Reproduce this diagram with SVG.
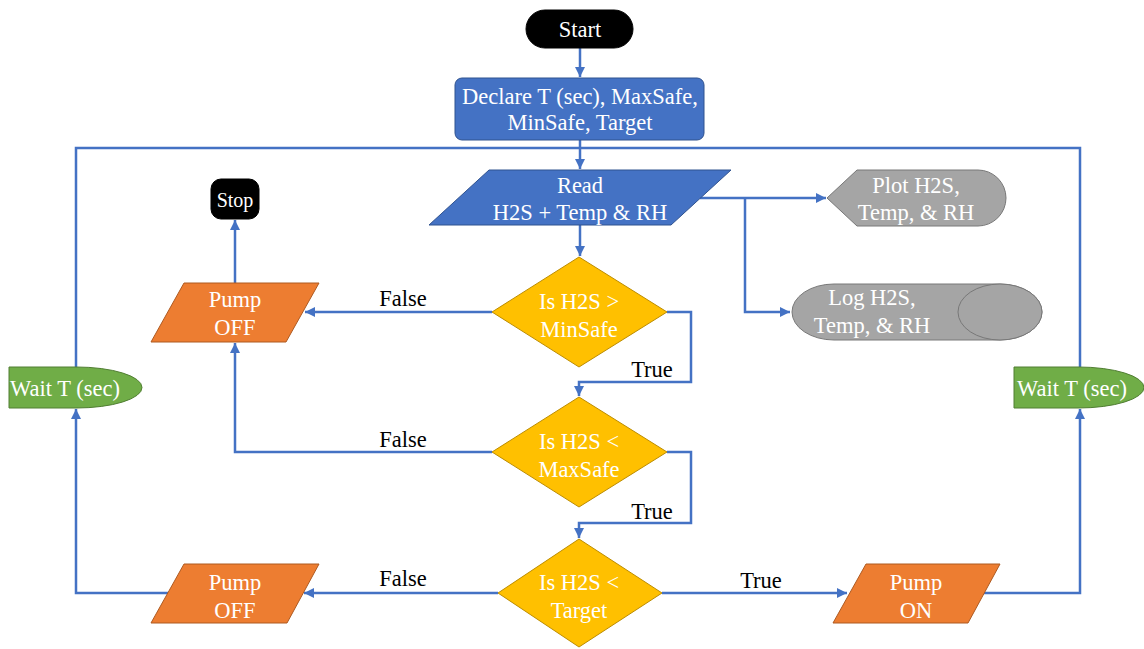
<svg xmlns="http://www.w3.org/2000/svg" width="1144" height="649" viewBox="0 0 1144 649" font-family="Liberation Serif, Times New Roman, serif">
<style>
text{font-size:22.5px;text-anchor:middle}
.w{fill:#fff}
.k{fill:#000}
.c{fill:none;stroke:#4472C4;stroke-width:2.5}
.blue{fill:#4472C4;stroke:#2F528F;stroke-width:1}
.org{fill:#ED7D31;stroke:#AE5A21;stroke-width:1}
.gold{fill:#FFC000;stroke:#BC8C00;stroke-width:1}
.gray{fill:#A5A5A5;stroke:#787878;stroke-width:1}
.green{fill:#70AD47;stroke:#507E32;stroke-width:1}
.blk{fill:#000;stroke:#000}
</style>
<defs>
<marker id="ah" markerUnits="userSpaceOnUse" markerWidth="12" markerHeight="10" refX="10" refY="5" orient="auto">
<path d="M0,0 L10,5 L0,10 Z" fill="#4472C4"/>
</marker>
</defs>
<rect width="1144" height="649" fill="#fff"/>
<g id="connectors">
<path class="c" d="M580,48 V77" marker-end="url(#ah)"/>
<path class="c" d="M580,140 V169" marker-end="url(#ah)"/>
<path class="c" d="M76,367 V148 H1080 V367"/>
<path class="c" d="M700,198 H826" marker-end="url(#ah)"/>
<path class="c" d="M745,198 V312 H790" marker-end="url(#ah)"/>
<path class="c" d="M580,225 V256" marker-end="url(#ah)"/>
<path class="c" d="M667,312 H691 V382 H579 V396" marker-end="url(#ah)"/>
<path class="c" d="M667,452 H691 V523 H579 V538" marker-end="url(#ah)"/>
<path class="c" d="M492,312 H305" marker-end="url(#ah)"/>
<path class="c" d="M492,452 H235 V343" marker-end="url(#ah)"/>
<path class="c" d="M235,283 V220" marker-end="url(#ah)"/>
<path class="c" d="M498,593 H304" marker-end="url(#ah)"/>
<path class="c" d="M168,593 H76 V409" marker-end="url(#ah)"/>
<path class="c" d="M662,593 H847" marker-end="url(#ah)"/>
<path class="c" d="M984,593 H1080 V409" marker-end="url(#ah)"/>
<text class="k" x="403" y="306">False</text>
<text class="k" x="403" y="447">False</text>
<text class="k" x="403" y="586">False</text>
<text class="k" x="652" y="377">True</text>
<text class="k" x="652" y="519">True</text>
<text class="k" x="761" y="588">True</text>
</g>
<g id="start">
<rect class="blk" x="526" y="10" width="107" height="38" rx="19"/>
<text class="w" x="580" y="37">Start</text>
</g>
<g id="declare">
<rect class="blue" x="455" y="78" width="249" height="62" rx="7"/>
<text class="w" x="580" y="104">Declare T (sec), MaxSafe,</text>
<text class="w" x="580" y="130">MinSafe, Target</text>
</g>
<g id="read">
<polygon class="blue" points="489,170 731,170 671,225 429,225"/>
<text class="w" x="580" y="193">Read</text>
<text class="w" x="580" y="220">H2S + Temp &amp; RH</text>
</g>
<g id="plot">
<path class="gray" d="M827,198 L857,170 H978 A28,28 0 0 1 978,226 H857 Z"/>
<text class="w" x="916" y="193">Plot H2S,</text>
<text class="w" x="916" y="220">Temp, &amp; RH</text>
</g>
<g id="log">
<path class="gray" d="M834,284 H1000 A42,28 0 0 1 1000,340 H834 A42,28 0 0 1 834,284 Z"/>
<ellipse class="gray" cx="1000" cy="312" rx="42" ry="28"/>
<text class="w" x="872" y="305">Log H2S,</text>
<text class="w" x="872" y="333">Temp, &amp; RH</text>
</g>
<g id="d1">
<polygon class="gold" points="579,257 667,312 579,367 492,312"/>
<text class="w" x="579" y="309">Is H2S &gt;</text>
<text class="w" x="579" y="337">MinSafe</text>
</g>
<g id="d2">
<polygon class="gold" points="579,397 667,452 579,507 492,452"/>
<text class="w" x="579" y="449">Is H2S &lt;</text>
<text class="w" x="579" y="477">MaxSafe</text>
</g>
<g id="d3">
<polygon class="gold" points="579,539 662,593 579,647 498,593"/>
<text class="w" x="579" y="590">Is H2S &lt;</text>
<text class="w" x="579" y="618">Target</text>
</g>
<g id="pumpoff1">
<polygon class="org" points="184,283 319,283 286,342 151,342"/>
<text class="w" x="235" y="307">Pump</text>
<text class="w" x="235" y="335">OFF</text>
</g>
<g id="stop">
<rect class="blk" x="211" y="179" width="48" height="40" rx="10"/>
<text class="w" x="235" y="207" style="font-size:20px">Stop</text>
</g>
<g id="pumpoff2">
<polygon class="org" points="184,564 319,564 287,623 151,623"/>
<text class="w" x="235" y="590">Pump</text>
<text class="w" x="235" y="618">OFF</text>
</g>
<g id="pumpon">
<polygon class="org" points="866,564 1000,564 968,623 833,623"/>
<text class="w" x="916" y="590">Pump</text>
<text class="w" x="916" y="618">ON</text>
</g>
<g id="waitleft">
<path class="green" d="M9,367 H76 A66,20.5 0 0 1 76,408 H9 Z"/>
<text class="w" x="65" y="396">Wait T (sec)</text>
</g>
<g id="waitright">
<path class="green" d="M1014,367 H1078 A66,20.5 0 0 1 1078,408 H1014 Z"/>
<text class="w" x="1072" y="396">Wait T (sec)</text>
</g>
</svg>
